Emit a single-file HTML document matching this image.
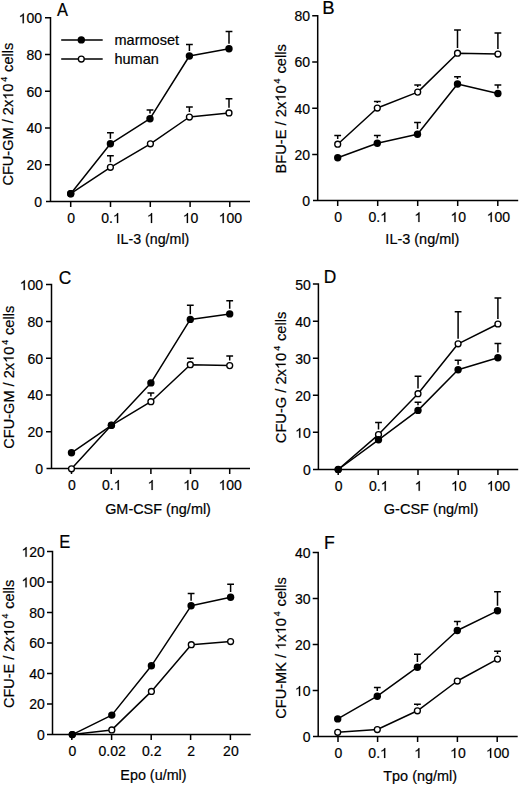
<!DOCTYPE html>
<html><head><meta charset="utf-8"><title>Figure</title>
<style>
html,body{margin:0;padding:0;background:#fff;}
body{width:520px;height:786px;overflow:hidden;}
svg{display:block;}
text{font-family:"Liberation Sans",sans-serif;fill:#000;stroke:#000;stroke-width:0.2px;font-kerning:none;font-variant-ligatures:none;}
.one{fill:#000;stroke:#000;}
.t{font-size:14px;}
.tt{font-size:14.5px;}
.lg{font-size:14.2px;}
.L{font-size:18.6px;}
</style></head>
<body>
<svg width="520" height="786" viewBox="0 0 520 786">
<rect width="520" height="786" fill="#fff"/>
<path d="M46 201.5H250 M45 17.8H50.5V201.5 M45 164.76H50.5 M45 128.02H50.5 M45 91.28H50.5 M45 54.54H50.5 M70.7 201.5V207 M110.5 201.5V207 M150.3 201.5V207 M190.1 201.5V207 M229.8 201.5V207" fill="none" stroke="#000" stroke-width="1.5"/>
<g transform="translate(42 206.9) translate(-7.79 0)"><text x="0" y="0" font-size="14">0</text></g>
<g transform="translate(42 170.16) translate(-15.57 0)"><text x="0 7.79" y="0" font-size="14">20</text></g>
<g transform="translate(42 133.42) translate(-15.57 0)"><text x="0 7.79" y="0" font-size="14">40</text></g>
<g transform="translate(42 96.68) translate(-15.57 0)"><text x="0 7.79" y="0" font-size="14">60</text></g>
<g transform="translate(42 59.94) translate(-15.57 0)"><text x="0 7.79" y="0" font-size="14">80</text></g>
<g transform="translate(42 23.2) translate(-23.36 0)"><text x="7.79 15.57" y="0" font-size="14">00</text><path d="M763 0H583V1114Q518 1054 412 994Q307 934 223 903V1072Q374 1141 487 1240Q600 1338 647 1430H763Z" transform="translate(0 0) scale(0.00684 -0.00684)" stroke-width="29.26" class="one"/></g>
<g transform="translate(71.2 222.9) translate(-3.89 0)"><text x="0" y="0" font-size="14">0</text></g>
<g transform="translate(111 222.9) translate(-9.73 0)"><text x="0 7.79" y="0" font-size="14">0.</text><path d="M763 0H583V1114Q518 1054 412 994Q307 934 223 903V1072Q374 1141 487 1240Q600 1338 647 1430H763Z" transform="translate(11.68 0) scale(0.00684 -0.00684)" stroke-width="29.26" class="one"/></g>
<g transform="translate(150.8 222.9) translate(-3.89 0)"><path d="M763 0H583V1114Q518 1054 412 994Q307 934 223 903V1072Q374 1141 487 1240Q600 1338 647 1430H763Z" transform="translate(0 0) scale(0.00684 -0.00684)" stroke-width="29.26" class="one"/></g>
<g transform="translate(190.6 222.9) translate(-7.79 0)"><text x="7.79" y="0" font-size="14">0</text><path d="M763 0H583V1114Q518 1054 412 994Q307 934 223 903V1072Q374 1141 487 1240Q600 1338 647 1430H763Z" transform="translate(0 0) scale(0.00684 -0.00684)" stroke-width="29.26" class="one"/></g>
<g transform="translate(230.3 222.9) translate(-11.68 0)"><text x="7.79 15.57" y="0" font-size="14">00</text><path d="M763 0H583V1114Q518 1054 412 994Q307 934 223 903V1072Q374 1141 487 1240Q600 1338 647 1430H763Z" transform="translate(0 0) scale(0.00684 -0.00684)" stroke-width="29.26" class="one"/></g>
<g transform="translate(117.9 244.2) translate(-1.31 0) scale(0.9806 1)"><text x="0 4.03 12.09 16.92 29.01 33.84 41.91 49.97 54 66.08 69.3" y="0" font-size="14.5">IL-3(ng/ml)</text></g>
<g transform="translate(13.2 184.8) rotate(-90) translate(-0.74 0) scale(1.0037 1)"><text x="0 10.47 19.33 29.8 34.63 45.91 62.01 70.07 78.14 93.45" y="0" font-size="14.5">CFU-GM/2x0</text><path d="M763 0H583V1114Q518 1054 412 994Q307 934 223 903V1072Q374 1141 487 1240Q600 1338 647 1430H763Z" transform="translate(85.39 0) scale(0.00708 -0.00708)" stroke-width="28.25" class="one"/><text x="103.51" y="-6" font-size="8.8">4</text><text x="113.24 120.49 128.55 131.77 134.99" y="0" font-size="14.5">cells</text></g>
<g transform="translate(56.97 16.2) translate(0 0) scale(0.8839 1)"><text x="0" y="0" font-size="18.6">A</text></g>
<path d="M70.7 193.7 L110.4 167.3 L150.4 143.8 L189.4 117 L229 112.9" fill="none" stroke="#000" stroke-width="1.5" stroke-linejoin="round"/>
<path d="M110.4 162.2V155.8 M107 155.8H113.8 M189.4 111.9V107 M186 107H192.8 M229 107.8V98.8 M225.6 98.8H232.4" fill="none" stroke="#000" stroke-width="1.5"/>
<circle cx="70.7" cy="193.7" r="2.95" fill="#fff" stroke="#000" stroke-width="1.35"/>
<circle cx="110.4" cy="167.3" r="2.95" fill="#fff" stroke="#000" stroke-width="1.35"/>
<circle cx="150.4" cy="143.8" r="2.95" fill="#fff" stroke="#000" stroke-width="1.35"/>
<circle cx="189.4" cy="117" r="2.95" fill="#fff" stroke="#000" stroke-width="1.35"/>
<circle cx="229" cy="112.9" r="2.95" fill="#fff" stroke="#000" stroke-width="1.35"/>
<path d="M70.7 193.7 L110.4 143.8 L150 118.7 L189.4 56 L229 48.8" fill="none" stroke="#000" stroke-width="1.5" stroke-linejoin="round"/>
<path d="M110.4 138.7V132.7 M107 132.7H113.8 M150 113.6V110 M146.6 110H153.4 M189.4 50.9V44.4 M186 44.4H192.8 M229 43.7V31.5 M225.6 31.5H232.4" fill="none" stroke="#000" stroke-width="1.5"/>
<circle cx="70.7" cy="193.7" r="3.7" fill="#000"/>
<circle cx="110.4" cy="143.8" r="3.7" fill="#000"/>
<circle cx="150" cy="118.7" r="3.7" fill="#000"/>
<circle cx="189.4" cy="56" r="3.7" fill="#000"/>
<circle cx="229" cy="48.8" r="3.7" fill="#000"/>
<path d="M61.2 39.9H102.7 M61.2 59H102.7" fill="none" stroke="#000" stroke-width="1.5"/>
<circle cx="81.3" cy="39.9" r="3.7" fill="#000"/>
<circle cx="81.3" cy="59" r="2.95" fill="#fff" stroke="#000" stroke-width="1.35"/>
<g transform="translate(114.5 45.3) translate(0 0) scale(1.0218 1)"><text x="0 11.83 19.73 24.45 36.28 44.18 51.28 59.18" y="0" font-size="14.2">marmoset</text></g>
<g transform="translate(114.5 63.9) translate(0 0) scale(1.0203 1)"><text x="0 7.9 15.79 27.62 35.52" y="0" font-size="14.2">human</text></g>
<path d="M313 200.6H518.2 M312.2 15.7H317.7V200.6 M312.2 154.38H317.7 M312.2 108.15H317.7 M312.2 61.92H317.7 M337.7 200.6V206.1 M377.7 200.6V206.1 M417.7 200.6V206.1 M457.7 200.6V206.1 M497.8 200.6V206.1" fill="none" stroke="#000" stroke-width="1.5"/>
<g transform="translate(310 206) translate(-7.79 0)"><text x="0" y="0" font-size="14">0</text></g>
<g transform="translate(310 159.78) translate(-15.57 0)"><text x="0 7.79" y="0" font-size="14">20</text></g>
<g transform="translate(310 113.55) translate(-15.57 0)"><text x="0 7.79" y="0" font-size="14">40</text></g>
<g transform="translate(310 67.32) translate(-15.57 0)"><text x="0 7.79" y="0" font-size="14">60</text></g>
<g transform="translate(310 21.1) translate(-15.57 0)"><text x="0 7.79" y="0" font-size="14">80</text></g>
<g transform="translate(338.2 222) translate(-3.89 0)"><text x="0" y="0" font-size="14">0</text></g>
<g transform="translate(378.2 222) translate(-9.73 0)"><text x="0 7.79" y="0" font-size="14">0.</text><path d="M763 0H583V1114Q518 1054 412 994Q307 934 223 903V1072Q374 1141 487 1240Q600 1338 647 1430H763Z" transform="translate(11.68 0) scale(0.00684 -0.00684)" stroke-width="29.26" class="one"/></g>
<g transform="translate(418.2 222) translate(-3.89 0)"><path d="M763 0H583V1114Q518 1054 412 994Q307 934 223 903V1072Q374 1141 487 1240Q600 1338 647 1430H763Z" transform="translate(0 0) scale(0.00684 -0.00684)" stroke-width="29.26" class="one"/></g>
<g transform="translate(458.2 222) translate(-7.79 0)"><text x="7.79" y="0" font-size="14">0</text><path d="M763 0H583V1114Q518 1054 412 994Q307 934 223 903V1072Q374 1141 487 1240Q600 1338 647 1430H763Z" transform="translate(0 0) scale(0.00684 -0.00684)" stroke-width="29.26" class="one"/></g>
<g transform="translate(498.3 222) translate(-11.68 0)"><text x="7.79 15.57" y="0" font-size="14">00</text><path d="M763 0H583V1114Q518 1054 412 994Q307 934 223 903V1072Q374 1141 487 1240Q600 1338 647 1430H763Z" transform="translate(0 0) scale(0.00684 -0.00684)" stroke-width="29.26" class="one"/></g>
<g transform="translate(386.7 244.2) translate(-1.33 0) scale(0.9973 1)"><text x="0 4.03 12.09 16.92 29.01 33.84 41.91 49.97 54 66.08 69.3" y="0" font-size="14.5">IL-3(ng/ml)</text></g>
<g transform="translate(285.6 172.3) rotate(-90) translate(-1.2 0) scale(1.0123 1)"><text x="0 9.67 18.53 29 33.83 47.53 55.59 63.65 78.96" y="0" font-size="14.5">BFU-E/2x0</text><path d="M763 0H583V1114Q518 1054 412 994Q307 934 223 903V1072Q374 1141 487 1240Q600 1338 647 1430H763Z" transform="translate(70.9 0) scale(0.00708 -0.00708)" stroke-width="28.25" class="one"/><text x="89.03" y="-6" font-size="8.8">4</text><text x="98.75 106 114.07 117.29 120.51" y="0" font-size="14.5">cells</text></g>
<g transform="translate(322.28 14.3) translate(0 0) scale(0.9986 1)"><text x="0" y="0" font-size="18.6">B</text></g>
<path d="M337.7 144.2 L377.3 108 L417.7 92.1 L457.5 53.2 L497.9 54" fill="none" stroke="#000" stroke-width="1.5" stroke-linejoin="round"/>
<path d="M337.7 139.1V135.6 M334.3 135.6H341.1 M377.3 102.9V101.6 M373.9 101.6H380.7 M417.7 87V84.9 M414.3 84.9H421.1 M457.5 48.1V30.1 M454.1 30.1H460.9 M497.9 48.9V33 M494.5 33H501.3" fill="none" stroke="#000" stroke-width="1.5"/>
<circle cx="337.7" cy="144.2" r="2.95" fill="#fff" stroke="#000" stroke-width="1.35"/>
<circle cx="377.3" cy="108" r="2.95" fill="#fff" stroke="#000" stroke-width="1.35"/>
<circle cx="417.7" cy="92.1" r="2.95" fill="#fff" stroke="#000" stroke-width="1.35"/>
<circle cx="457.5" cy="53.2" r="2.95" fill="#fff" stroke="#000" stroke-width="1.35"/>
<circle cx="497.9" cy="54" r="2.95" fill="#fff" stroke="#000" stroke-width="1.35"/>
<path d="M337.7 157.7 L377.3 143.3 L417.5 134.2 L457.5 84 L497.9 93.5" fill="none" stroke="#000" stroke-width="1.5" stroke-linejoin="round"/>
<path d="M377.3 138.2V135.6 M373.9 135.6H380.7 M417.5 129.1V122.4 M414.1 122.4H420.9 M457.5 78.9V76.8 M454.1 76.8H460.9 M497.9 88.4V84.9 M494.5 84.9H501.3" fill="none" stroke="#000" stroke-width="1.5"/>
<circle cx="337.7" cy="157.7" r="3.7" fill="#000"/>
<circle cx="377.3" cy="143.3" r="3.7" fill="#000"/>
<circle cx="417.5" cy="134.2" r="3.7" fill="#000"/>
<circle cx="457.5" cy="84" r="3.7" fill="#000"/>
<circle cx="497.9" cy="93.5" r="3.7" fill="#000"/>
<path d="M46.5 468.5H250 M46 284.6H51.5V468.5 M46 431.72H51.5 M46 394.94H51.5 M46 358.16H51.5 M46 321.38H51.5 M71.5 468.5V474 M111.2 468.5V474 M150.9 468.5V474 M190.5 468.5V474 M229.7 468.5V474" fill="none" stroke="#000" stroke-width="1.5"/>
<g transform="translate(43 473.9) translate(-7.79 0)"><text x="0" y="0" font-size="14">0</text></g>
<g transform="translate(43 437.12) translate(-15.57 0)"><text x="0 7.79" y="0" font-size="14">20</text></g>
<g transform="translate(43 400.34) translate(-15.57 0)"><text x="0 7.79" y="0" font-size="14">40</text></g>
<g transform="translate(43 363.56) translate(-15.57 0)"><text x="0 7.79" y="0" font-size="14">60</text></g>
<g transform="translate(43 326.78) translate(-15.57 0)"><text x="0 7.79" y="0" font-size="14">80</text></g>
<g transform="translate(43 290) translate(-23.36 0)"><text x="7.79 15.57" y="0" font-size="14">00</text><path d="M763 0H583V1114Q518 1054 412 994Q307 934 223 903V1072Q374 1141 487 1240Q600 1338 647 1430H763Z" transform="translate(0 0) scale(0.00684 -0.00684)" stroke-width="29.26" class="one"/></g>
<g transform="translate(72 489.9) translate(-3.89 0)"><text x="0" y="0" font-size="14">0</text></g>
<g transform="translate(111.7 489.9) translate(-9.73 0)"><text x="0 7.79" y="0" font-size="14">0.</text><path d="M763 0H583V1114Q518 1054 412 994Q307 934 223 903V1072Q374 1141 487 1240Q600 1338 647 1430H763Z" transform="translate(11.68 0) scale(0.00684 -0.00684)" stroke-width="29.26" class="one"/></g>
<g transform="translate(151.4 489.9) translate(-3.89 0)"><path d="M763 0H583V1114Q518 1054 412 994Q307 934 223 903V1072Q374 1141 487 1240Q600 1338 647 1430H763Z" transform="translate(0 0) scale(0.00684 -0.00684)" stroke-width="29.26" class="one"/></g>
<g transform="translate(191 489.9) translate(-7.79 0)"><text x="7.79" y="0" font-size="14">0</text><path d="M763 0H583V1114Q518 1054 412 994Q307 934 223 903V1072Q374 1141 487 1240Q600 1338 647 1430H763Z" transform="translate(0 0) scale(0.00684 -0.00684)" stroke-width="29.26" class="one"/></g>
<g transform="translate(230.2 489.9) translate(-11.68 0)"><text x="7.79 15.57" y="0" font-size="14">00</text><path d="M763 0H583V1114Q518 1054 412 994Q307 934 223 903V1072Q374 1141 487 1240Q600 1338 647 1430H763Z" transform="translate(0 0) scale(0.00684 -0.00684)" stroke-width="29.26" class="one"/></g>
<g transform="translate(105.9 513.6) translate(-0.73 0) scale(0.9943 1)"><text x="0 11.28 23.36 28.19 38.66 48.33 61.21 66.04 74.11 82.17 86.2 98.28 101.5" y="0" font-size="14.5">GM-CSF(ng/ml)</text></g>
<g transform="translate(13.6 448) rotate(-90) translate(-0.74 0) scale(1.0051 1)"><text x="0 10.47 19.33 29.8 34.63 45.91 62.01 70.07 78.14 93.45" y="0" font-size="14.5">CFU-GM/2x0</text><path d="M763 0H583V1114Q518 1054 412 994Q307 934 223 903V1072Q374 1141 487 1240Q600 1338 647 1430H763Z" transform="translate(85.39 0) scale(0.00708 -0.00708)" stroke-width="28.25" class="one"/><text x="103.51" y="-6" font-size="8.8">4</text><text x="113.24 120.49 128.55 131.77 134.99" y="0" font-size="14.5">cells</text></g>
<g transform="translate(58.63 283.8) translate(0 0) scale(0.9313 1)"><text x="0" y="0" font-size="18.6">C</text></g>
<path d="M71.5 468.8 L111.4 425.3 L150.9 401.7 L190.3 364.7 L229.7 365.6" fill="none" stroke="#000" stroke-width="1.5" stroke-linejoin="round"/>
<path d="M150.9 396.6V393 M147.5 393H154.3 M190.3 359.6V358.3 M186.9 358.3H193.7 M229.7 360.5V356.1 M226.3 356.1H233.1" fill="none" stroke="#000" stroke-width="1.5"/>
<circle cx="71.5" cy="468.8" r="2.95" fill="#fff" stroke="#000" stroke-width="1.35"/>
<circle cx="111.4" cy="425.3" r="2.95" fill="#fff" stroke="#000" stroke-width="1.35"/>
<circle cx="150.9" cy="401.7" r="2.95" fill="#fff" stroke="#000" stroke-width="1.35"/>
<circle cx="190.3" cy="364.7" r="2.95" fill="#fff" stroke="#000" stroke-width="1.35"/>
<circle cx="229.7" cy="365.6" r="2.95" fill="#fff" stroke="#000" stroke-width="1.35"/>
<path d="M71.5 452.8 L111.4 425.3 L150.9 382.9 L190.3 319.4 L229.7 313.9" fill="none" stroke="#000" stroke-width="1.5" stroke-linejoin="round"/>
<path d="M190.3 314.3V305.2 M186.9 305.2H193.7 M229.7 308.8V300.7 M226.3 300.7H233.1" fill="none" stroke="#000" stroke-width="1.5"/>
<circle cx="71.5" cy="452.8" r="3.7" fill="#000"/>
<circle cx="111.4" cy="425.3" r="3.7" fill="#000"/>
<circle cx="150.9" cy="382.9" r="3.7" fill="#000"/>
<circle cx="190.3" cy="319.4" r="3.7" fill="#000"/>
<circle cx="229.7" cy="313.9" r="3.7" fill="#000"/>
<path d="M313 469.4H518.2 M312.9 284.1H318.4V469.4 M312.9 432.34H318.4 M312.9 395.28H318.4 M312.9 358.22H318.4 M312.9 321.16H318.4 M338.2 469.4V474.9 M378.2 469.4V474.9 M418 469.4V474.9 M458.2 469.4V474.9 M497.9 469.4V474.9" fill="none" stroke="#000" stroke-width="1.5"/>
<g transform="translate(310.7 474.8) translate(-7.79 0)"><text x="0" y="0" font-size="14">0</text></g>
<g transform="translate(310.7 437.74) translate(-15.57 0)"><text x="7.79" y="0" font-size="14">0</text><path d="M763 0H583V1114Q518 1054 412 994Q307 934 223 903V1072Q374 1141 487 1240Q600 1338 647 1430H763Z" transform="translate(0 0) scale(0.00684 -0.00684)" stroke-width="29.26" class="one"/></g>
<g transform="translate(310.7 400.68) translate(-15.57 0)"><text x="0 7.79" y="0" font-size="14">20</text></g>
<g transform="translate(310.7 363.62) translate(-15.57 0)"><text x="0 7.79" y="0" font-size="14">30</text></g>
<g transform="translate(310.7 326.56) translate(-15.57 0)"><text x="0 7.79" y="0" font-size="14">40</text></g>
<g transform="translate(310.7 289.5) translate(-15.57 0)"><text x="0 7.79" y="0" font-size="14">50</text></g>
<g transform="translate(338.7 490.8) translate(-3.89 0)"><text x="0" y="0" font-size="14">0</text></g>
<g transform="translate(378.7 490.8) translate(-9.73 0)"><text x="0 7.79" y="0" font-size="14">0.</text><path d="M763 0H583V1114Q518 1054 412 994Q307 934 223 903V1072Q374 1141 487 1240Q600 1338 647 1430H763Z" transform="translate(11.68 0) scale(0.00684 -0.00684)" stroke-width="29.26" class="one"/></g>
<g transform="translate(418.5 490.8) translate(-3.89 0)"><path d="M763 0H583V1114Q518 1054 412 994Q307 934 223 903V1072Q374 1141 487 1240Q600 1338 647 1430H763Z" transform="translate(0 0) scale(0.00684 -0.00684)" stroke-width="29.26" class="one"/></g>
<g transform="translate(458.7 490.8) translate(-7.79 0)"><text x="7.79" y="0" font-size="14">0</text><path d="M763 0H583V1114Q518 1054 412 994Q307 934 223 903V1072Q374 1141 487 1240Q600 1338 647 1430H763Z" transform="translate(0 0) scale(0.00684 -0.00684)" stroke-width="29.26" class="one"/></g>
<g transform="translate(498.4 490.8) translate(-11.68 0)"><text x="7.79 15.57" y="0" font-size="14">00</text><path d="M763 0H583V1114Q518 1054 412 994Q307 934 223 903V1072Q374 1141 487 1240Q600 1338 647 1430H763Z" transform="translate(0 0) scale(0.00684 -0.00684)" stroke-width="29.26" class="one"/></g>
<g transform="translate(384.5 514.1) translate(-0.73 0) scale(1.0030 1)"><text x="0 11.28 16.11 26.58 36.25 49.14 53.96 62.03 70.09 74.12 86.2 89.42" y="0" font-size="14.5">G-CSF(ng/ml)</text></g>
<g transform="translate(285.6 442.4) rotate(-90) translate(-0.74 0) scale(1.0093 1)"><text x="0 10.47 19.33 29.8 34.63 49.94 57.99 66.06 81.37" y="0" font-size="14.5">CFU-G/2x0</text><path d="M763 0H583V1114Q518 1054 412 994Q307 934 223 903V1072Q374 1141 487 1240Q600 1338 647 1430H763Z" transform="translate(73.31 0) scale(0.00708 -0.00708)" stroke-width="28.25" class="one"/><text x="91.44" y="-6" font-size="8.8">4</text><text x="101.16 108.41 116.47 119.69 122.92" y="0" font-size="14.5">cells</text></g>
<g transform="translate(323.68 283.3) translate(0 0) scale(0.9338 1)"><text x="0" y="0" font-size="18.6">D</text></g>
<path d="M338.2 469.5 L378.5 434.6 L418 393.7 L458.1 343.8 L497.9 324" fill="none" stroke="#000" stroke-width="1.5" stroke-linejoin="round"/>
<path d="M378.5 429.5V422.5 M375.1 422.5H381.9 M418 388.6V376.3 M414.6 376.3H421.4 M458.1 338.7V311.7 M454.7 311.7H461.5 M497.9 318.9V298.1 M494.5 298.1H501.3" fill="none" stroke="#000" stroke-width="1.5"/>
<circle cx="338.2" cy="469.5" r="2.95" fill="#fff" stroke="#000" stroke-width="1.35"/>
<circle cx="378.5" cy="434.6" r="2.95" fill="#fff" stroke="#000" stroke-width="1.35"/>
<circle cx="418" cy="393.7" r="2.95" fill="#fff" stroke="#000" stroke-width="1.35"/>
<circle cx="458.1" cy="343.8" r="2.95" fill="#fff" stroke="#000" stroke-width="1.35"/>
<circle cx="497.9" cy="324" r="2.95" fill="#fff" stroke="#000" stroke-width="1.35"/>
<path d="M338.2 469.5 L378.5 439.8 L418 410.4 L458.1 369.8 L497.9 357.7" fill="none" stroke="#000" stroke-width="1.5" stroke-linejoin="round"/>
<path d="M418 405.3V402.3 M414.6 402.3H421.4 M458.1 364.7V360.2 M454.7 360.2H461.5 M497.9 352.6V343.5 M494.5 343.5H501.3" fill="none" stroke="#000" stroke-width="1.5"/>
<circle cx="338.2" cy="469.5" r="3.7" fill="#000"/>
<circle cx="378.5" cy="439.8" r="3.7" fill="#000"/>
<circle cx="418" cy="410.4" r="3.7" fill="#000"/>
<circle cx="458.1" cy="369.8" r="3.7" fill="#000"/>
<circle cx="497.9" cy="357.7" r="3.7" fill="#000"/>
<path d="M47 734.5H250.7 M47 551.4H52.5V734.5 M47 703.98H52.5 M47 673.47H52.5 M47 642.95H52.5 M47 612.43H52.5 M47 581.92H52.5 M71.8 734.5V740 M111.6 734.5V740 M151.2 734.5V740 M190.6 734.5V740 M230.4 734.5V740" fill="none" stroke="#000" stroke-width="1.5"/>
<g transform="translate(44.8 739.9) translate(-7.79 0)"><text x="0" y="0" font-size="14">0</text></g>
<g transform="translate(44.8 709.38) translate(-15.57 0)"><text x="0 7.79" y="0" font-size="14">20</text></g>
<g transform="translate(44.8 678.87) translate(-15.57 0)"><text x="0 7.79" y="0" font-size="14">40</text></g>
<g transform="translate(44.8 648.35) translate(-15.57 0)"><text x="0 7.79" y="0" font-size="14">60</text></g>
<g transform="translate(44.8 617.83) translate(-15.57 0)"><text x="0 7.79" y="0" font-size="14">80</text></g>
<g transform="translate(44.8 587.32) translate(-23.36 0)"><text x="7.79 15.57" y="0" font-size="14">00</text><path d="M763 0H583V1114Q518 1054 412 994Q307 934 223 903V1072Q374 1141 487 1240Q600 1338 647 1430H763Z" transform="translate(0 0) scale(0.00684 -0.00684)" stroke-width="29.26" class="one"/></g>
<g transform="translate(44.8 556.8) translate(-23.36 0)"><text x="7.79 15.57" y="0" font-size="14">20</text><path d="M763 0H583V1114Q518 1054 412 994Q307 934 223 903V1072Q374 1141 487 1240Q600 1338 647 1430H763Z" transform="translate(0 0) scale(0.00684 -0.00684)" stroke-width="29.26" class="one"/></g>
<g transform="translate(72.3 755.9) translate(-3.89 0)"><text x="0" y="0" font-size="14">0</text></g>
<g transform="translate(112.1 755.9) translate(-13.62 0)"><text x="0 7.79 11.68 19.46" y="0" font-size="14">0.02</text></g>
<g transform="translate(151.7 755.9) translate(-9.73 0)"><text x="0 7.79 11.68" y="0" font-size="14">0.2</text></g>
<g transform="translate(191.1 755.9) translate(-3.89 0)"><text x="0" y="0" font-size="14">2</text></g>
<g transform="translate(230.9 755.9) translate(-7.79 0)"><text x="0 7.79" y="0" font-size="14">20</text></g>
<g transform="translate(121.5 779.5) translate(-1.18 0) scale(0.9909 1)"><text x="0 9.67 17.74 29.83 34.66 42.72 46.75 58.83 62.05" y="0" font-size="14.5">Epo(u/ml)</text></g>
<g transform="translate(14.2 707.3) rotate(-90) translate(-0.73 0) scale(0.9977 1)"><text x="0 10.47 19.33 29.8 34.63 48.33 56.39 64.45 79.76" y="0" font-size="14.5">CFU-E/2x0</text><path d="M763 0H583V1114Q518 1054 412 994Q307 934 223 903V1072Q374 1141 487 1240Q600 1338 647 1430H763Z" transform="translate(71.7 0) scale(0.00708 -0.00708)" stroke-width="28.25" class="one"/><text x="89.83" y="-6" font-size="8.8">4</text><text x="99.55 106.8 114.87 118.09 121.31" y="0" font-size="14.5">cells</text></g>
<g transform="translate(59.34 548.4) translate(0 0) scale(0.8911 1)"><text x="0" y="0" font-size="18.6">E</text></g>
<path d="M72.3 734.6 L111.8 729.9 L151.4 691.4 L191.3 644.7 L230.6 641.5" fill="none" stroke="#000" stroke-width="1.5" stroke-linejoin="round"/>
<circle cx="72.3" cy="734.6" r="2.95" fill="#fff" stroke="#000" stroke-width="1.35"/>
<circle cx="111.8" cy="729.9" r="2.95" fill="#fff" stroke="#000" stroke-width="1.35"/>
<circle cx="151.4" cy="691.4" r="2.95" fill="#fff" stroke="#000" stroke-width="1.35"/>
<circle cx="191.3" cy="644.7" r="2.95" fill="#fff" stroke="#000" stroke-width="1.35"/>
<circle cx="230.6" cy="641.5" r="2.95" fill="#fff" stroke="#000" stroke-width="1.35"/>
<path d="M72.3 734.6 L111.8 715.1 L151.4 665.8 L191.1 605.8 L230.6 597.2" fill="none" stroke="#000" stroke-width="1.5" stroke-linejoin="round"/>
<path d="M191.1 600.7V593.4 M187.7 593.4H194.5 M230.6 592.1V584.2 M227.2 584.2H234" fill="none" stroke="#000" stroke-width="1.5"/>
<circle cx="72.3" cy="734.6" r="3.7" fill="#000"/>
<circle cx="111.8" cy="715.1" r="3.7" fill="#000"/>
<circle cx="151.4" cy="665.8" r="3.7" fill="#000"/>
<circle cx="191.1" cy="605.8" r="3.7" fill="#000"/>
<circle cx="230.6" cy="597.2" r="3.7" fill="#000"/>
<path d="M313 736.5H517.7 M312.7 552.4H318.2V736.5 M312.7 690.48H318.2 M312.7 644.45H318.2 M312.7 598.42H318.2 M338 736.5V742 M377.6 736.5V742 M417.6 736.5V742 M457.4 736.5V742 M497.2 736.5V742" fill="none" stroke="#000" stroke-width="1.5"/>
<g transform="translate(310.5 741.9) translate(-7.79 0)"><text x="0" y="0" font-size="14">0</text></g>
<g transform="translate(310.5 695.88) translate(-15.57 0)"><text x="7.79" y="0" font-size="14">0</text><path d="M763 0H583V1114Q518 1054 412 994Q307 934 223 903V1072Q374 1141 487 1240Q600 1338 647 1430H763Z" transform="translate(0 0) scale(0.00684 -0.00684)" stroke-width="29.26" class="one"/></g>
<g transform="translate(310.5 649.85) translate(-15.57 0)"><text x="0 7.79" y="0" font-size="14">20</text></g>
<g transform="translate(310.5 603.82) translate(-15.57 0)"><text x="0 7.79" y="0" font-size="14">30</text></g>
<g transform="translate(310.5 557.8) translate(-15.57 0)"><text x="0 7.79" y="0" font-size="14">40</text></g>
<g transform="translate(338.5 757.9) translate(-3.89 0)"><text x="0" y="0" font-size="14">0</text></g>
<g transform="translate(378.1 757.9) translate(-9.73 0)"><text x="0 7.79" y="0" font-size="14">0.</text><path d="M763 0H583V1114Q518 1054 412 994Q307 934 223 903V1072Q374 1141 487 1240Q600 1338 647 1430H763Z" transform="translate(11.68 0) scale(0.00684 -0.00684)" stroke-width="29.26" class="one"/></g>
<g transform="translate(418.1 757.9) translate(-3.89 0)"><path d="M763 0H583V1114Q518 1054 412 994Q307 934 223 903V1072Q374 1141 487 1240Q600 1338 647 1430H763Z" transform="translate(0 0) scale(0.00684 -0.00684)" stroke-width="29.26" class="one"/></g>
<g transform="translate(457.9 757.9) translate(-7.79 0)"><text x="7.79" y="0" font-size="14">0</text><path d="M763 0H583V1114Q518 1054 412 994Q307 934 223 903V1072Q374 1141 487 1240Q600 1338 647 1430H763Z" transform="translate(0 0) scale(0.00684 -0.00684)" stroke-width="29.26" class="one"/></g>
<g transform="translate(497.7 757.9) translate(-11.68 0)"><text x="7.79 15.57" y="0" font-size="14">00</text><path d="M763 0H583V1114Q518 1054 412 994Q307 934 223 903V1072Q374 1141 487 1240Q600 1338 647 1430H763Z" transform="translate(0 0) scale(0.00684 -0.00684)" stroke-width="29.26" class="one"/></g>
<g transform="translate(383.6 780.9) translate(-0.32 0) scale(0.9958 1)"><text x="0 8.86 16.92 29.01 33.84 41.91 49.97 54 66.08 69.3" y="0" font-size="14.5">Tpo(ng/ml)</text></g>
<g transform="translate(285.7 718) rotate(-90) translate(-0.74 0) scale(1.0066 1)"><text x="0 10.47 19.33 29.8 34.63 46.71 60.41 76.53 91.84" y="0" font-size="14.5">CFU-MK/x0</text><path d="M763 0H583V1114Q518 1054 412 994Q307 934 223 903V1072Q374 1141 487 1240Q600 1338 647 1430H763Z" transform="translate(68.46 0) scale(0.00708 -0.00708)" stroke-width="28.25" class="one"/><path d="M763 0H583V1114Q518 1054 412 994Q307 934 223 903V1072Q374 1141 487 1240Q600 1338 647 1430H763Z" transform="translate(83.78 0) scale(0.00708 -0.00708)" stroke-width="28.25" class="one"/><text x="101.91" y="-6" font-size="8.8">4</text><text x="111.63 118.88 126.94 130.17 133.39" y="0" font-size="14.5">cells</text></g>
<g transform="translate(324.06 549.4) translate(0 0) scale(0.9455 1)"><text x="0" y="0" font-size="18.6">F</text></g>
<path d="M337.7 732.3 L377.3 729.5 L417.4 710.8 L457.3 681 L497.5 659.1" fill="none" stroke="#000" stroke-width="1.5" stroke-linejoin="round"/>
<path d="M417.4 705.7V704.2 M414 704.2H420.8 M497.5 654V651.3 M494.1 651.3H500.9" fill="none" stroke="#000" stroke-width="1.5"/>
<circle cx="337.7" cy="732.3" r="2.95" fill="#fff" stroke="#000" stroke-width="1.35"/>
<circle cx="377.3" cy="729.5" r="2.95" fill="#fff" stroke="#000" stroke-width="1.35"/>
<circle cx="417.4" cy="710.8" r="2.95" fill="#fff" stroke="#000" stroke-width="1.35"/>
<circle cx="457.3" cy="681" r="2.95" fill="#fff" stroke="#000" stroke-width="1.35"/>
<circle cx="497.5" cy="659.1" r="2.95" fill="#fff" stroke="#000" stroke-width="1.35"/>
<path d="M337.7 718.9 L377.3 696.2 L417.4 667.2 L457.3 630.5 L497.5 610.8" fill="none" stroke="#000" stroke-width="1.5" stroke-linejoin="round"/>
<path d="M377.3 691.1V687.6 M373.9 687.6H380.7 M417.4 662.1V654.3 M414 654.3H420.8 M457.3 625.4V621.5 M453.9 621.5H460.7 M497.5 605.7V591.8 M494.1 591.8H500.9" fill="none" stroke="#000" stroke-width="1.5"/>
<circle cx="337.7" cy="718.9" r="3.7" fill="#000"/>
<circle cx="377.3" cy="696.2" r="3.7" fill="#000"/>
<circle cx="417.4" cy="667.2" r="3.7" fill="#000"/>
<circle cx="457.3" cy="630.5" r="3.7" fill="#000"/>
<circle cx="497.5" cy="610.8" r="3.7" fill="#000"/>
</svg>
</body></html>
